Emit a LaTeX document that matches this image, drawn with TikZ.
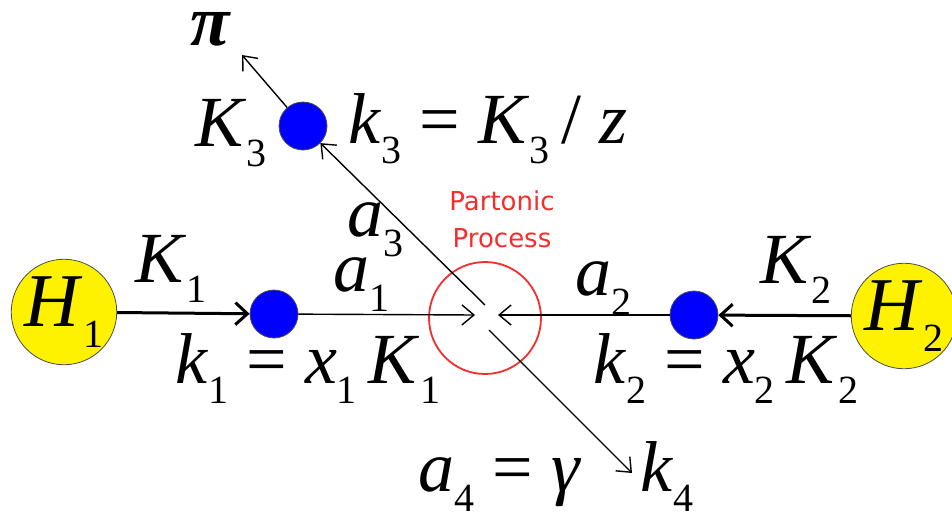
\documentclass[tikz,border=0pt]{standalone}
\usepackage{fontspec}
\setmainfont{Liberation Serif}
\newfontfamily\procfont{DejaVu Sans}
\usetikzlibrary{arrows.meta}
\definecolor{partred}{RGB}{245,45,45}
\newcommand{\eqfont}{\fontsize{36}{40}\selectfont}
\newcommand{\hadfont}{\fontsize{38}{42}\selectfont}
\newcommand{\sym}[2]{\textit{#1}\raisebox{-0.28em}{\fontsize{20}{20}\selectfont #2}}

\begin{document}
\begin{tikzpicture}[x=0.5pt,y=-0.5pt,
   hadron/.style={circle,draw=black!70,fill=yellow,minimum size=47pt,inner sep=0pt,font=\hadfont},
   parton/.style={circle,draw=black!70,fill=blue,minimum size=24pt,inner sep=0pt},
   lbl/.style={anchor=base west,inner sep=0pt,font=\eqfont},
   beam/.style={line width=1.5pt,-{Straight Barb[length=6pt,width=11pt]}},
   prop/.style={line width=0.7pt,-{Straight Barb[length=6pt,width=10pt]}}]
  \useasboundingbox (0,0) rectangle (952,520);
  % hadrons and partons
  \node[hadron] (H1) at (64,312) {\sym{H}{1}};
  \node[hadron] (H2) at (904,316) {\sym{H}{2}};
  \node[parton] (p1) at (274,314) {};
  \node[parton] (p2) at (694,315) {};
  \node[parton] (p3) at (303,126) {};
  \node[circle,draw=partred,line width=0.9pt,minimum size=56pt] (vertex) at (485,318) {};
  \node[anchor=north,inner sep=0pt,align=center,text=partred,
        font=\procfont\fontsize{13}{18.5}\selectfont] (proc) at (502,190) {Partonic\\Process};
  % free ends
  \coordinate (a1end) at (475,315);
  \coordinate (a2end) at (498,315);
  \coordinate (a3start) at (485,305);
  \coordinate (a4start) at (489,330);
  \coordinate (k4tip) at (632,473);
  \coordinate (pitip) at (242,55);
  \draw[beam] (H1) -- (p1);
  \draw[beam] (H2) -- (p2);
  \draw[prop] (p1) -- (a1end);
  \draw[prop] (p2) -- (a2end);
  \draw[prop] (a3start) -- (p3);
  \draw[prop] (a4start) -- (k4tip);
  \draw[prop] (p3) -- (pitip);
  % labels
  \node[lbl] (pi) at (190,45) {\textbf{\textit{π}}};
  \node[lbl] (K3) at (195,146) {\sym{K}{3}};
  \node[lbl] (k3) at (348,143) {\sym{k}{3} = \sym{K}{3}\,/ \textit{z}};
  \node[lbl] (a3) at (347,236) {\sym{a}{3}};
  \node[lbl] (a1) at (333,291) {\sym{a}{1}};
  \node[lbl] (a2) at (575,295) {\sym{a}{2}};
  \node[lbl] (K1) at (135,282) {\sym{K}{1}};
  \node[lbl] (K2) at (760,283) {\sym{K}{2}};
  \node[lbl] (k1) at (175,383) {\sym{k}{1} = \sym{x}{1}\,\sym{K}{1}};
  \node[lbl] (k2) at (593,383) {\sym{k}{2} = \sym{x}{2}\,\sym{K}{2}};
  \node[lbl] (a4) at (418,491) {\sym{a}{4} = \textit{γ}};
  \node[lbl] (k4) at (640,491) {\sym{k}{4}};
\end{tikzpicture}
\end{document}
